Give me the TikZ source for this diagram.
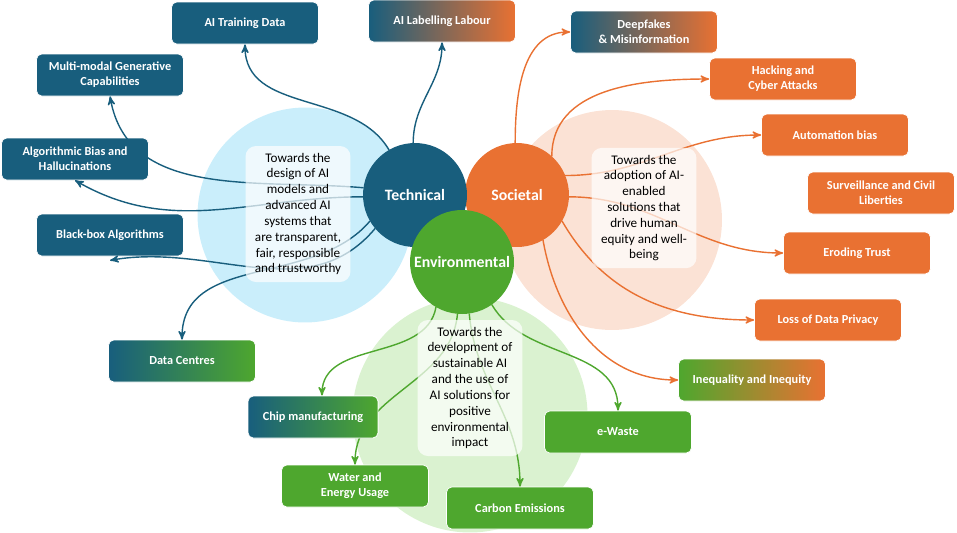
\documentclass[tikz,border=0pt]{standalone}
\usepackage{fontspec}
\setmainfont{Carlito}
\usetikzlibrary{arrows,calc}

\definecolor{techblue}{HTML}{185E7D}
\definecolor{socorange}{HTML}{E97132}
\definecolor{envgreen}{HTML}{4EA72E}
\definecolor{lightblue}{HTML}{CAEEFB}
\definecolor{lightpeach}{HTML}{FBE2D5}
\definecolor{lightgreen}{HTML}{DAF2D0}

\begin{document}
\begin{tikzpicture}[x=0.02cm,y=0.02cm,>=stealth',thick,
  main node/.style={circle,minimum size=2.08cm,inner sep=0pt,text=white,font=\fontsize{9}{10}\selectfont\bfseries},
  back node/.style={circle,inner sep=0pt},
  note node/.style={rounded corners=6pt,fill=white,fill opacity=0.7,text opacity=1,align=center,minimum width=2.1cm,inner sep=4pt,font=\fontsize{7.5}{9}\selectfont},
  box node/.style={rounded corners=3pt,minimum width=2.94cm,minimum height=0.84cm,align=center,text=white,font=\fontsize{7}{8.4}\selectfont\bfseries,draw=white,thin},
  tech box/.style={box node,fill=techblue},
  soc box/.style={box node,fill=socorange},
  env box/.style={box node,fill=envgreen}]
  \useasboundingbox (0,0) rectangle (957,-532);

  % background circles
  \node[back node,fill=lightblue,minimum size=4.3cm] (techbg) at (305,-215) {};
  \node[back node,fill=lightpeach,minimum size=4.4cm] (socbg) at (612,-220) {};
  \node[back node,fill=lightgreen,minimum size=4.7cm] (envbg) at (470,-415) {};

  % circle centres
  \coordinate (tc) at (415,-195);
  \coordinate (sc) at (517,-195);
  \coordinate (ec) at (462,-262);

  % boxes
  \node[tech box] (train) at (245,-23) {AI Training Data};
  \node[box node,left color=techblue,right color=socorange] (labour) at (442,-21) {AI Labelling Labour};
  \node[tech box] (multi) at (110,-75) {Multi-modal Generative\\Capabilities};
  \node[tech box] (algo) at (75,-159) {Algorithmic Bias and\\Hallucinations};
  \node[tech box] (blackbox) at (110,-235) {Black-box Algorithms};
  \node[box node,left color=techblue,right color=envgreen] (centres) at (182,-361) {Data Centres};

  \node[box node,left color=techblue,right color=socorange] (deepfake) at (644,-32) {Deepfakes\\\& Misinformation};
  \node[soc box] (hacking) at (783,-79) {Hacking and\\Cyber Attacks};
  \node[soc box] (autobias) at (835,-135) {Automation bias};
  \node[soc box] (surveil) at (881,-193) {Surveillance and Civil\\Liberties};
  \node[soc box] (trust) at (857,-253) {Eroding Trust};
  \node[soc box] (privacy) at (828,-320) {Loss of Data Privacy};
  \node[box node,left color=envgreen,right color=socorange] (inequal) at (752,-380) {Inequality and Inequity};

  \node[box node,left color=techblue,right color=envgreen,minimum width=2.6cm] (chip) at (313,-417) {Chip manufacturing};
  \node[env box] (ewaste) at (618,-432) {e-Waste};
  \node[env box] (water) at (355,-486) {Water and\\Energy Usage};
  \node[env box] (carbon) at (520,-508) {Carbon Emissions};

  % connectors
  \begin{scope}[->,draw=techblue]
    \draw (tc) ++(120:52) to[out=120,in=-90] (train.south);
    \draw (tc) ++(92:52) to[out=90,in=-90] (labour.south);
    \draw (tc) ++(172:52) to[out=175,in=-80] (multi.south);
    \draw (tc) ++(182:52) to[out=180,in=-30] (algo.south);
    \draw (tc) ++(-140:52) to[out=-130,in=10] ($(blackbox.south)+(0,-4)$);
    \draw (tc) ++(-150:52) to[out=-130,in=90] (centres.north);
  \end{scope}
  \begin{scope}[->,draw=socorange]
    \draw (sc) ++(92:52) to[out=90,in=180] (deepfake.west);
    \draw (sc) ++(48:52) to[out=90,in=180] (hacking.west);
    \draw (sc) ++(22:52) to[out=0,in=180] (autobias.west);
    \draw (sc) ++(-2:52) to[out=0,in=180] (trust.west);
    \draw (sc) ++(-30:52) to[out=-60,in=180] (privacy.west);
    \draw (sc) ++(-60:52) to[out=-80,in=180] (inequal.west);
  \end{scope}
  \begin{scope}[->,draw=envgreen]
    \draw (ec) ++(-120:52) to[out=-100,in=90] ($(chip.north)+(9,0)$);
    \draw (ec) ++(-95:52) to[out=-95,in=90] (water.north);
    \draw (ec) ++(-82:52) to[out=-85,in=90] (carbon.north);
    \draw (ec) ++(-55:52) to[out=-60,in=90] (ewaste.north);
  \end{scope}

  % notes
  \node[note node] (technote) at (298,-214) {Towards the\\design of AI\\models and\\advanced AI\\systems that\\are transparent,\\fair, responsible\\and trustworthy};
  \node[note node] (socnote) at (644,-208) {Towards the\\adoption of AI-\\enabled\\solutions that\\drive human\\equity and well-\\being};
  \node[note node] (envnote) at (470,-388) {Towards the\\development of\\sustainable AI\\and the use of\\AI solutions for\\positive\\environmental\\impact};

  % main circles
  \node[main node,fill=socorange] (societal) at (sc) {Societal};
  \node[main node,fill=techblue] (technical) at (tc) {Technical};
  \node[main node,fill=envgreen] (environmental) at (ec) {Environmental};

  % chip again, over the water line
  \node[box node,left color=techblue,right color=envgreen,minimum width=2.6cm] (chiptop) at (chip) {Chip manufacturing};
\end{tikzpicture}
\end{document}
